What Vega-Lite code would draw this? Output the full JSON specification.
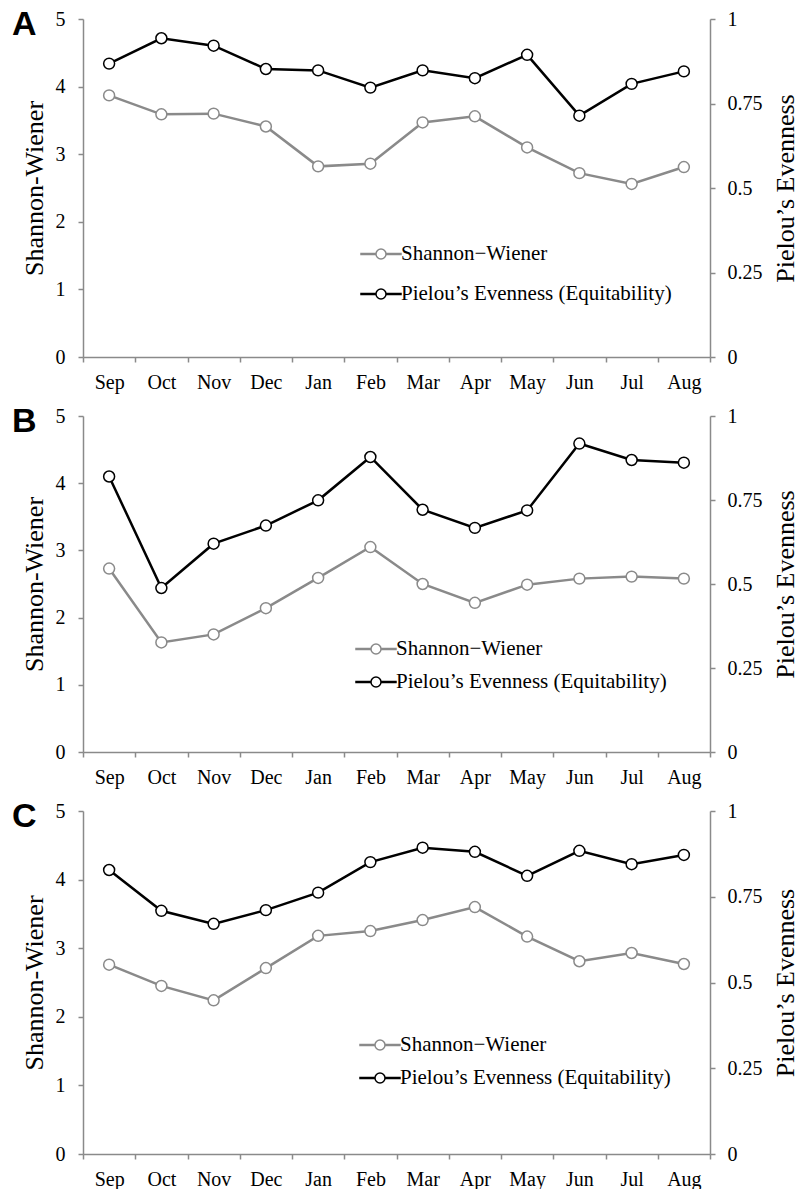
{
  "$schema": "https://vega.github.io/schema/vega-lite/v6.json",
  "padding": {"left": 12, "top": 8, "right": 0, "bottom": 0},
  "spacing": 13,
  "background": "white",
  "data": {"values": [
    {"p":"A","m":"Sep","sw":3.87,"pe":0.868},{"p":"A","m":"Oct","sw":3.59,"pe":0.943},{"p":"A","m":"Nov","sw":3.60,"pe":0.921},{"p":"A","m":"Dec","sw":3.41,"pe":0.852},{"p":"A","m":"Jan","sw":2.82,"pe":0.848},{"p":"A","m":"Feb","sw":2.86,"pe":0.797},{"p":"A","m":"Mar","sw":3.47,"pe":0.848},{"p":"A","m":"Apr","sw":3.56,"pe":0.825},{"p":"A","m":"May","sw":3.10,"pe":0.894},{"p":"A","m":"Jun","sw":2.72,"pe":0.714},{"p":"A","m":"Jul","sw":2.56,"pe":0.808},{"p":"A","m":"Aug","sw":2.81,"pe":0.845},
    {"p":"B","m":"Sep","sw":2.73,"pe":0.820},{"p":"B","m":"Oct","sw":1.63,"pe":0.488},{"p":"B","m":"Nov","sw":1.75,"pe":0.620},{"p":"B","m":"Dec","sw":2.14,"pe":0.674},{"p":"B","m":"Jan","sw":2.59,"pe":0.749},{"p":"B","m":"Feb","sw":3.05,"pe":0.878},{"p":"B","m":"Mar","sw":2.50,"pe":0.721},{"p":"B","m":"Apr","sw":2.22,"pe":0.667},{"p":"B","m":"May","sw":2.49,"pe":0.719},{"p":"B","m":"Jun","sw":2.58,"pe":0.918},{"p":"B","m":"Jul","sw":2.61,"pe":0.869},{"p":"B","m":"Aug","sw":2.58,"pe":0.861},
    {"p":"C","m":"Sep","sw":2.76,"pe":0.828},{"p":"C","m":"Oct","sw":2.45,"pe":0.709},{"p":"C","m":"Nov","sw":2.24,"pe":0.671},{"p":"C","m":"Dec","sw":2.71,"pe":0.711},{"p":"C","m":"Jan","sw":3.18,"pe":0.762},{"p":"C","m":"Feb","sw":3.25,"pe":0.851},{"p":"C","m":"Mar","sw":3.41,"pe":0.893},{"p":"C","m":"Apr","sw":3.60,"pe":0.881},{"p":"C","m":"May","sw":3.17,"pe":0.811},{"p":"C","m":"Jun","sw":2.81,"pe":0.884},{"p":"C","m":"Jul","sw":2.93,"pe":0.845},{"p":"C","m":"Aug","sw":2.77,"pe":0.872}
  ]},
  "vconcat": [
    {
      "width": 627, "height": 338,
      "title": {"text": "A", "anchor": "start", "frame": "group", "dx": -71, "dy": 36, "offset": -24, "baseline": "alphabetic", "font": "Liberation Sans", "fontSize": 34, "fontWeight": "bold", "color": "#000"},
      "transform": [{"filter": "datum.p === 'A'"}],
      "encoding": {"x": {"field": "m", "type": "nominal", "sort": ["Sep","Oct","Nov","Dec","Jan","Feb","Mar","Apr","May","Jun","Jul","Aug"], "scale": {"paddingInner": 0, "paddingOuter": 0}, "axis": {"title": null, "tickBand": "extent", "labelAngle": 0, "labelPadding": 10}}},
      "layer": [
        {"encoding": {
          "y": {"field": "sw", "type": "quantitative", "scale": {"domain": [0, 5], "nice": false}, "axis": {"values": [0,1,2,3,4,5], "title": "Shannon-Wiener", "labelPadding": 13, "titlePadding": 8}},
          "stroke": {"datum": "Shannon−Wiener", "type": "nominal", "scale": {"domain": ["Shannon−Wiener", "Pielou’s Evenness (Equitability)"], "range": ["#8a8a8a", "#000000"]},
            "legend": {"orient": "none", "legendX": 277, "legendY": 214, "title": null, "symbolType": "M-1,-0.025H-0.25V0.025H-1Z M0.25,-0.025H1V0.025H0.25Z M-0.25,0A0.25,0.25,0,1,1,0.25,0A0.25,0.25,0,1,1,-0.25,0Z", "symbolSize": 1600, "symbolStrokeWidth": 1.5, "symbolFillColor": "white", "symbolOpacity": 1, "labelFont": "Liberation Serif", "labelFontSize": 21, "labelColor": "#000", "labelOffset": -1, "rowPadding": 9, "labelLimit": 400}}},
         "layer": [{"mark": {"type": "line", "strokeWidth": 2.5}}, {"mark": {"type": "point", "filled": true, "fill": "white", "size": 120, "strokeWidth": 1.5, "opacity": 1}}]},
        {"encoding": {
          "y": {"field": "pe", "type": "quantitative", "scale": {"domain": [0, 1], "nice": false}, "axis": {"orient": "right", "values": [0,0.25,0.5,0.75,1], "format": ".2~f", "title": "Pielou’s Evenness", "titleAngle": 270, "titleBaseline": "top", "labelPadding": 12, "titlePadding": 10}},
          "stroke": {"datum": "Pielou’s Evenness (Equitability)", "type": "nominal", "scale": {"domain": ["Shannon−Wiener", "Pielou’s Evenness (Equitability)"], "range": ["#8a8a8a", "#000000"]},
            "legend": {"orient": "none", "legendX": 277, "legendY": 214, "title": null, "symbolType": "M-1,-0.025H-0.25V0.025H-1Z M0.25,-0.025H1V0.025H0.25Z M-0.25,0A0.25,0.25,0,1,1,0.25,0A0.25,0.25,0,1,1,-0.25,0Z", "symbolSize": 1600, "symbolStrokeWidth": 1.5, "symbolFillColor": "white", "symbolOpacity": 1, "labelFont": "Liberation Serif", "labelFontSize": 21, "labelColor": "#000", "labelOffset": -1, "rowPadding": 9, "labelLimit": 400}}},
         "layer": [{"mark": {"type": "line", "strokeWidth": 2.5}}, {"mark": {"type": "point", "filled": true, "fill": "white", "size": 120, "strokeWidth": 1.5, "opacity": 1}}]}
      ],
      "resolve": {"scale": {"y": "independent"}}
    },
    {
      "width": 627, "height": 336,
      "title": {"text": "B", "anchor": "start", "frame": "group", "dx": -71, "dy": 36, "offset": -24, "baseline": "alphabetic", "font": "Liberation Sans", "fontSize": 34, "fontWeight": "bold", "color": "#000"},
      "transform": [{"filter": "datum.p === 'B'"}],
      "encoding": {"x": {"field": "m", "type": "nominal", "sort": ["Sep","Oct","Nov","Dec","Jan","Feb","Mar","Apr","May","Jun","Jul","Aug"], "scale": {"paddingInner": 0, "paddingOuter": 0}, "axis": {"title": null, "tickBand": "extent", "labelAngle": 0, "labelPadding": 10}}},
      "layer": [
        {"encoding": {
          "y": {"field": "sw", "type": "quantitative", "scale": {"domain": [0, 5], "nice": false}, "axis": {"values": [0,1,2,3,4,5], "title": "Shannon-Wiener", "labelPadding": 13, "titlePadding": 8}},
          "stroke": {"datum": "Shannon−Wiener", "type": "nominal", "scale": {"domain": ["Shannon−Wiener", "Pielou’s Evenness (Equitability)"], "range": ["#8a8a8a", "#000000"]},
            "legend": {"orient": "none", "legendX": 272, "legendY": 212, "title": null, "symbolType": "M-1,-0.025H-0.25V0.025H-1Z M0.25,-0.025H1V0.025H0.25Z M-0.25,0A0.25,0.25,0,1,1,0.25,0A0.25,0.25,0,1,1,-0.25,0Z", "symbolSize": 1600, "symbolStrokeWidth": 1.5, "symbolFillColor": "white", "symbolOpacity": 1, "labelFont": "Liberation Serif", "labelFontSize": 21, "labelColor": "#000", "labelOffset": -1, "rowPadding": 2, "labelLimit": 400}}},
         "layer": [{"mark": {"type": "line", "strokeWidth": 2.5}}, {"mark": {"type": "point", "filled": true, "fill": "white", "size": 120, "strokeWidth": 1.5, "opacity": 1}}]},
        {"encoding": {
          "y": {"field": "pe", "type": "quantitative", "scale": {"domain": [0, 1], "nice": false}, "axis": {"orient": "right", "values": [0,0.25,0.5,0.75,1], "format": ".2~f", "title": "Pielou’s Evenness", "titleAngle": 270, "titleBaseline": "top", "labelPadding": 12, "titlePadding": 10}},
          "stroke": {"datum": "Pielou’s Evenness (Equitability)", "type": "nominal", "scale": {"domain": ["Shannon−Wiener", "Pielou’s Evenness (Equitability)"], "range": ["#8a8a8a", "#000000"]},
            "legend": {"orient": "none", "legendX": 272, "legendY": 212, "title": null, "symbolType": "M-1,-0.025H-0.25V0.025H-1Z M0.25,-0.025H1V0.025H0.25Z M-0.25,0A0.25,0.25,0,1,1,0.25,0A0.25,0.25,0,1,1,-0.25,0Z", "symbolSize": 1600, "symbolStrokeWidth": 1.5, "symbolFillColor": "white", "symbolOpacity": 1, "labelFont": "Liberation Serif", "labelFontSize": 21, "labelColor": "#000", "labelOffset": -1, "rowPadding": 2, "labelLimit": 400}}},
         "layer": [{"mark": {"type": "line", "strokeWidth": 2.5}}, {"mark": {"type": "point", "filled": true, "fill": "white", "size": 120, "strokeWidth": 1.5, "opacity": 1}}]}
      ],
      "resolve": {"scale": {"y": "independent"}}
    },
    {
      "width": 627, "height": 343,
      "title": {"text": "C", "anchor": "start", "frame": "group", "dx": -71, "dy": 36, "offset": -24, "baseline": "alphabetic", "font": "Liberation Sans", "fontSize": 34, "fontWeight": "bold", "color": "#000"},
      "transform": [{"filter": "datum.p === 'C'"}],
      "encoding": {"x": {"field": "m", "type": "nominal", "sort": ["Sep","Oct","Nov","Dec","Jan","Feb","Mar","Apr","May","Jun","Jul","Aug"], "scale": {"paddingInner": 0, "paddingOuter": 0}, "axis": {"title": null, "tickBand": "extent", "labelAngle": 0, "labelPadding": 10}}},
      "layer": [
        {"encoding": {
          "y": {"field": "sw", "type": "quantitative", "scale": {"domain": [0, 5], "nice": false}, "axis": {"values": [0,1,2,3,4,5], "title": "Shannon-Wiener", "labelPadding": 13, "titlePadding": 8}},
          "stroke": {"datum": "Shannon−Wiener", "type": "nominal", "scale": {"domain": ["Shannon−Wiener", "Pielou’s Evenness (Equitability)"], "range": ["#8a8a8a", "#000000"]},
            "legend": {"orient": "none", "legendX": 276, "legendY": 213, "title": null, "symbolType": "M-1,-0.025H-0.25V0.025H-1Z M0.25,-0.025H1V0.025H0.25Z M-0.25,0A0.25,0.25,0,1,1,0.25,0A0.25,0.25,0,1,1,-0.25,0Z", "symbolSize": 1600, "symbolStrokeWidth": 1.5, "symbolFillColor": "white", "symbolOpacity": 1, "labelFont": "Liberation Serif", "labelFontSize": 21, "labelColor": "#000", "labelOffset": -1, "rowPadding": 2, "labelLimit": 400}}},
         "layer": [{"mark": {"type": "line", "strokeWidth": 2.5}}, {"mark": {"type": "point", "filled": true, "fill": "white", "size": 120, "strokeWidth": 1.5, "opacity": 1}}]},
        {"encoding": {
          "y": {"field": "pe", "type": "quantitative", "scale": {"domain": [0, 1], "nice": false}, "axis": {"orient": "right", "values": [0,0.25,0.5,0.75,1], "format": ".2~f", "title": "Pielou’s Evenness", "titleAngle": 270, "titleBaseline": "top", "labelPadding": 12, "titlePadding": 10}},
          "stroke": {"datum": "Pielou’s Evenness (Equitability)", "type": "nominal", "scale": {"domain": ["Shannon−Wiener", "Pielou’s Evenness (Equitability)"], "range": ["#8a8a8a", "#000000"]},
            "legend": {"orient": "none", "legendX": 276, "legendY": 213, "title": null, "symbolType": "M-1,-0.025H-0.25V0.025H-1Z M0.25,-0.025H1V0.025H0.25Z M-0.25,0A0.25,0.25,0,1,1,0.25,0A0.25,0.25,0,1,1,-0.25,0Z", "symbolSize": 1600, "symbolStrokeWidth": 1.5, "symbolFillColor": "white", "symbolOpacity": 1, "labelFont": "Liberation Serif", "labelFontSize": 21, "labelColor": "#000", "labelOffset": -1, "rowPadding": 2, "labelLimit": 400}}},
         "layer": [{"mark": {"type": "line", "strokeWidth": 2.5}}, {"mark": {"type": "point", "filled": true, "fill": "white", "size": 120, "strokeWidth": 1.5, "opacity": 1}}]}
      ],
      "resolve": {"scale": {"y": "independent"}}
    }
  ],
  "resolve": {"scale": {"stroke": "independent"}, "legend": {"stroke": "independent"}},
  "config": {
    "view": {"stroke": null},
    "axis": {"domainColor": "#8a8a8a", "tickColor": "#8a8a8a", "domainWidth": 1.5, "tickWidth": 1.5, "tickSize": 5, "grid": false, "labelFont": "Liberation Serif", "labelFontSize": 20, "labelColor": "#000", "titleFont": "Liberation Serif", "titleFontSize": 26, "titleFontWeight": "normal", "titleColor": "#000"}
  }
}
